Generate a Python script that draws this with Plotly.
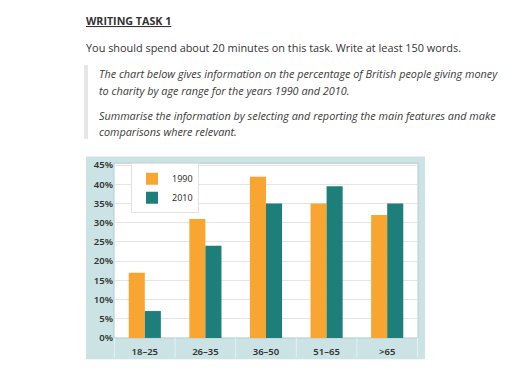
import plotly.graph_objects as go

categories = ["18–25", "26–35", "36–50", "51–65", ">65"]
values_1990 = [17, 31, 42, 35, 32]
values_2010 = [7, 24, 35, 39.5, 35]
y_ticks = [0, 5, 10, 15, 20, 25, 30, 35, 40, 45]
y_tick_labels = [f"{v}%" for v in y_ticks]

W, H = 512, 375
def px_x(x): return x / W
def px_y(y): return (H - y) / H

ORANGE = "#F9A532"
TEAL = "#1E7E79"
BOXBLUE = "#CBE3E5"
TXT = "#333333"
ITXT = "#3a3a3a"

fig = go.Figure()
fig.add_trace(go.Bar(x=categories, y=values_1990, name="1990", marker=dict(color=ORANGE, line=dict(width=0))))
fig.add_trace(go.Bar(x=categories, y=values_2010, name="2010", marker=dict(color=TEAL, line=dict(width=0))))

xd = [px_x(114), px_x(418)]
yd = [px_y(343), px_y(163)]

shapes = [
    dict(type="rect", xref="paper", yref="paper", x0=px_x(86), x1=px_x(425), y0=px_y(365), y1=px_y(156),
         fillcolor=BOXBLUE, line=dict(width=0), layer="below"),
    dict(type="rect", xref="paper", yref="paper", x0=xd[0], x1=xd[1], y0=yd[0], y1=yd[1],
         fillcolor="white", line=dict(color="#B3CDCF", width=1), layer="below"),
    dict(type="rect", xref="paper", yref="paper", x0=px_x(84), x1=px_x(88), y0=px_y(138), y1=px_y(62),
         fillcolor="#E6E6E6", line=dict(width=0), layer="below"),
]
for i in range(len(categories) + 1):
    shapes.append(dict(type="line", xref="x", yref="paper", x0=i - 0.5, x1=i - 0.5,
                       y0=px_y(363), y1=yd[0], line=dict(color="#E3F0F1", width=1), layer="below"))

def ann(text, x, y, size, color):
    return dict(text=text, x=px_x(x), y=px_y(y), xref="paper", yref="paper",
                xanchor="left", yanchor="middle", showarrow=False,
                font=dict(family="Open Sans", size=size, color=color))

annotations = [
    ann("<b><u>WRITING TASK 1</u></b>", 84, 16, 10.7, TXT),
    ann("You should spend about 20 minutes on this task. Write at least 150 words.", 84, 43.5, 10.9, TXT),
    ann("<i>The chart below gives information on the percentage of British people giving money</i>", 97, 71, 10.85, ITXT),
    ann("<i>to charity by age range for the years 1990 and 2010.</i>", 97, 88, 10.85, ITXT),
    ann("<i>Summarise the information by selecting and reporting the main features and make</i>", 97, 114, 10.85, ITXT),
    ann("<i>comparisons where relevant.</i>", 97, 130, 10.85, ITXT),
]

tickfont = dict(family="Noto Sans", size=9.5, color=TXT, weight=600)

fig.update_layout(
    width=W, height=H,
    margin=dict(l=0, r=0, t=0, b=0),
    paper_bgcolor="white",
    plot_bgcolor="rgba(0,0,0,0)",
    barmode="group",
    bargap=0.47,
    bargroupgap=0,
    showlegend=True,
    legend=dict(x=px_x(131), y=px_y(163), xanchor="left", yanchor="top",
                bgcolor="white", bordercolor="#E2E2E2", borderwidth=1,
                font=dict(family="Noto Sans", size=9, color=TXT),
                itemwidth=30, tracegroupgap=0),
    xaxis=dict(domain=xd, type="category", showgrid=False, zeroline=False, showline=False,
               ticks="outside", ticklen=5, tickcolor="rgba(0,0,0,0)", tickfont=tickfont),
    yaxis=dict(domain=yd, range=[0, 45.5], tickvals=y_ticks, ticktext=y_tick_labels,
               showgrid=True, gridcolor="#E4E4E4", gridwidth=1, zeroline=False, showline=False,
               ticks="", tickfont=tickfont),
    shapes=shapes,
    annotations=annotations,
)

fig.write_html("out.html")
